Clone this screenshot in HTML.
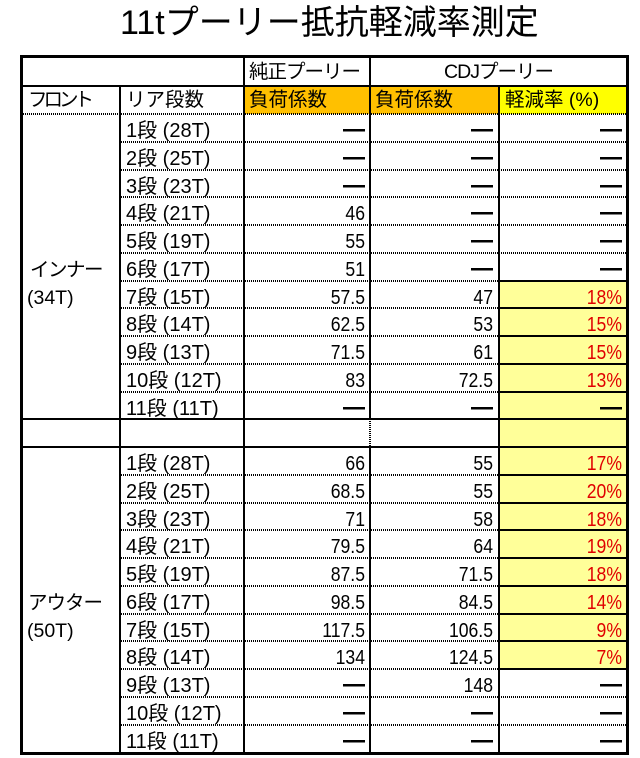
<!DOCTYPE html>
<html><head><meta charset="utf-8"><style>
body{margin:0;width:640px;height:757px;background:#fff;position:relative;overflow:hidden;font-family:"Liberation Sans","Noto Sans CJK JP",sans-serif;color:#000}
.t{position:absolute;left:120px;top:6px;font-size:34px;line-height:34px;white-space:nowrap}
.x{position:absolute}
.k{position:absolute;background:#000}
.dh{position:absolute;height:2px;background:repeating-linear-gradient(90deg,#000 0 1px,transparent 1px 2px)}
.dv{position:absolute;width:2px;background:repeating-linear-gradient(180deg,#000 0 1px,transparent 1px 2px)}
.r{position:absolute;left:0;width:640px;height:28px;line-height:28px;font-size:18px;white-space:nowrap}
.r span{position:absolute;top:0}
.a{left:126px;font-size:20px}
.f{left:30px;font-size:19.5px}
.b,.c,.d{font-size:20px;text-align:right;transform:scaleX(0.88);transform-origin:right center}
.b{left:225px;width:140px}
.c{left:353px;width:140px}
.d{left:482px;width:140px;color:#e00000}
b.m{font-size:25px;font-weight:bold;position:relative;top:-2px;color:#000}
.h{font-size:19.5px}
</style></head><body>
<div class="t">11tプーリー抵抗軽減率測定</div>

<!-- fills -->
<div class="x" style="left:245px;top:87px;width:124px;height:27px;background:#FFC000"></div>
<div class="x" style="left:371px;top:87px;width:127px;height:27px;background:#FFC000"></div>
<div class="x" style="left:500px;top:87px;width:126px;height:27px;background:#FFFF00"></div>
<div class="x" style="left:500px;top:281px;width:126px;height:388px;background:#FFFF99"></div>

<!-- outer border -->
<div class="x" style="left:20px;top:55px;width:609px;height:700px;border:3px solid #000;box-sizing:border-box"></div>

<!-- horizontal lines -->
<div class="k" style="left:23px;top:85px;width:603px;height:2px"></div>
<div class="dh" style="left:23px;top:113px;width:603px"></div>
<div class="k" style="left:23px;top:418px;width:603px;height:2px"></div>
<div class="k" style="left:23px;top:446px;width:603px;height:2px"></div>

<div class="dh" style="left:121px;top:141px;width:505px"></div>
<div class="dh" style="left:121px;top:169px;width:505px"></div>
<div class="dh" style="left:121px;top:196px;width:505px"></div>
<div class="dh" style="left:121px;top:224px;width:505px"></div>
<div class="dh" style="left:121px;top:252px;width:505px"></div>
<div class="dh" style="left:121px;top:280px;width:377px"></div>
<div class="dh" style="left:121px;top:307px;width:377px"></div>
<div class="dh" style="left:121px;top:335px;width:377px"></div>
<div class="dh" style="left:121px;top:363px;width:377px"></div>
<div class="dh" style="left:121px;top:391px;width:377px"></div>
<div class="k" style="left:500px;top:280px;width:126px;height:2px"></div>
<div class="k" style="left:500px;top:307px;width:126px;height:2px"></div>
<div class="k" style="left:500px;top:335px;width:126px;height:2px"></div>
<div class="k" style="left:500px;top:363px;width:126px;height:2px"></div>
<div class="k" style="left:500px;top:391px;width:126px;height:2px"></div>

<div class="dh" style="left:121px;top:474px;width:377px"></div>
<div class="dh" style="left:121px;top:502px;width:377px"></div>
<div class="dh" style="left:121px;top:529px;width:377px"></div>
<div class="dh" style="left:121px;top:557px;width:377px"></div>
<div class="dh" style="left:121px;top:585px;width:377px"></div>
<div class="dh" style="left:121px;top:613px;width:377px"></div>
<div class="dh" style="left:121px;top:640px;width:377px"></div>
<div class="dh" style="left:121px;top:668px;width:377px"></div>
<div class="k" style="left:500px;top:474px;width:126px;height:2px"></div>
<div class="k" style="left:500px;top:502px;width:126px;height:2px"></div>
<div class="k" style="left:500px;top:529px;width:126px;height:2px"></div>
<div class="k" style="left:500px;top:557px;width:126px;height:2px"></div>
<div class="k" style="left:500px;top:585px;width:126px;height:2px"></div>
<div class="k" style="left:500px;top:613px;width:126px;height:2px"></div>
<div class="k" style="left:500px;top:640px;width:126px;height:2px"></div>
<div class="k" style="left:500px;top:668px;width:126px;height:2px"></div>
<div class="dh" style="left:121px;top:696px;width:505px"></div>
<div class="dh" style="left:121px;top:724px;width:505px"></div>

<!-- vertical lines -->
<div class="k" style="left:119px;top:87px;width:2px;height:665px"></div>
<div class="k" style="left:243px;top:58px;width:2px;height:694px"></div>
<div class="k" style="left:369px;top:58px;width:2px;height:361px"></div>
<div class="dv" style="left:369px;top:419px;height:28px"></div>
<div class="k" style="left:369px;top:447px;width:2px;height:305px"></div>
<div class="k" style="left:498px;top:87px;width:2px;height:665px"></div>

<!-- header rows -->
<div class="r" style="top:58px"><span class="h" style="left:249px;letter-spacing:-1px">純正プーリー</span><span class="h" style="left:371px;width:255px;text-align:center;letter-spacing:-1px">CDJプーリー</span></div>
<div class="r" style="top:86px"><span class="h" style="left:28px;letter-spacing:-4px">フロント</span><span class="h" style="left:126px">リア段数</span><span class="h" style="left:249px">負荷係数</span><span class="h" style="left:375px">負荷係数</span><span class="h" style="left:505px">軽減率 (%)</span></div>

<!-- inner -->
<div class="r" style="top:117px"><span class="a">1段 (28T)</span><span class="b"><b class="m">—</b></span><span class="c"><b class="m">—</b></span><span class="d"><b class="m">—</b></span></div>
<div class="r" style="top:145px"><span class="a">2段 (25T)</span><span class="b"><b class="m">—</b></span><span class="c"><b class="m">—</b></span><span class="d"><b class="m">—</b></span></div>
<div class="r" style="top:173px"><span class="a">3段 (23T)</span><span class="b"><b class="m">—</b></span><span class="c"><b class="m">—</b></span><span class="d"><b class="m">—</b></span></div>
<div class="r" style="top:200px"><span class="a">4段 (21T)</span><span class="b">46</span><span class="c"><b class="m">—</b></span><span class="d"><b class="m">—</b></span></div>
<div class="r" style="top:228px"><span class="a">5段 (19T)</span><span class="b">55</span><span class="c"><b class="m">—</b></span><span class="d"><b class="m">—</b></span></div>
<div class="r" style="top:256px"><span class="f" style="letter-spacing:-1.5px">インナー</span><span class="a">6段 (17T)</span><span class="b">51</span><span class="c"><b class="m">—</b></span><span class="d"><b class="m">—</b></span></div>
<div class="r" style="top:284px"><span class="f" style="left:27px">(34T)</span><span class="a">7段 (15T)</span><span class="b">57.5</span><span class="c">47</span><span class="d">18%</span></div>
<div class="r" style="top:311px"><span class="a">8段 (14T)</span><span class="b">62.5</span><span class="c">53</span><span class="d">15%</span></div>
<div class="r" style="top:339px"><span class="a">9段 (13T)</span><span class="b">71.5</span><span class="c">61</span><span class="d">15%</span></div>
<div class="r" style="top:367px"><span class="a">10段 (12T)</span><span class="b">83</span><span class="c">72.5</span><span class="d">13%</span></div>
<div class="r" style="top:395px"><span class="a">11段 (11T)</span><span class="b"><b class="m">—</b></span><span class="c"><b class="m">—</b></span><span class="d"><b class="m">—</b></span></div>

<!-- outer -->
<div class="r" style="top:450px"><span class="a">1段 (28T)</span><span class="b">66</span><span class="c">55</span><span class="d">17%</span></div>
<div class="r" style="top:478px"><span class="a">2段 (25T)</span><span class="b">68.5</span><span class="c">55</span><span class="d">20%</span></div>
<div class="r" style="top:506px"><span class="a">3段 (23T)</span><span class="b">71</span><span class="c">58</span><span class="d">18%</span></div>
<div class="r" style="top:533px"><span class="a">4段 (21T)</span><span class="b">79.5</span><span class="c">64</span><span class="d">19%</span></div>
<div class="r" style="top:561px"><span class="a">5段 (19T)</span><span class="b">87.5</span><span class="c">71.5</span><span class="d">18%</span></div>
<div class="r" style="top:589px"><span class="f" style="left:28px;letter-spacing:-1px">アウター</span><span class="a">6段 (17T)</span><span class="b">98.5</span><span class="c">84.5</span><span class="d">14%</span></div>
<div class="r" style="top:617px"><span class="f" style="left:27px">(50T)</span><span class="a">7段 (15T)</span><span class="b">117.5</span><span class="c">106.5</span><span class="d">9%</span></div>
<div class="r" style="top:644px"><span class="a">8段 (14T)</span><span class="b">134</span><span class="c">124.5</span><span class="d">7%</span></div>
<div class="r" style="top:672px"><span class="a">9段 (13T)</span><span class="b"><b class="m">—</b></span><span class="c">148</span><span class="d"><b class="m">—</b></span></div>
<div class="r" style="top:700px"><span class="a">10段 (12T)</span><span class="b"><b class="m">—</b></span><span class="c"><b class="m">—</b></span><span class="d"><b class="m">—</b></span></div>
<div class="r" style="top:728px"><span class="a">11段 (11T)</span><span class="b"><b class="m">—</b></span><span class="c"><b class="m">—</b></span><span class="d"><b class="m">—</b></span></div>
</body></html>
